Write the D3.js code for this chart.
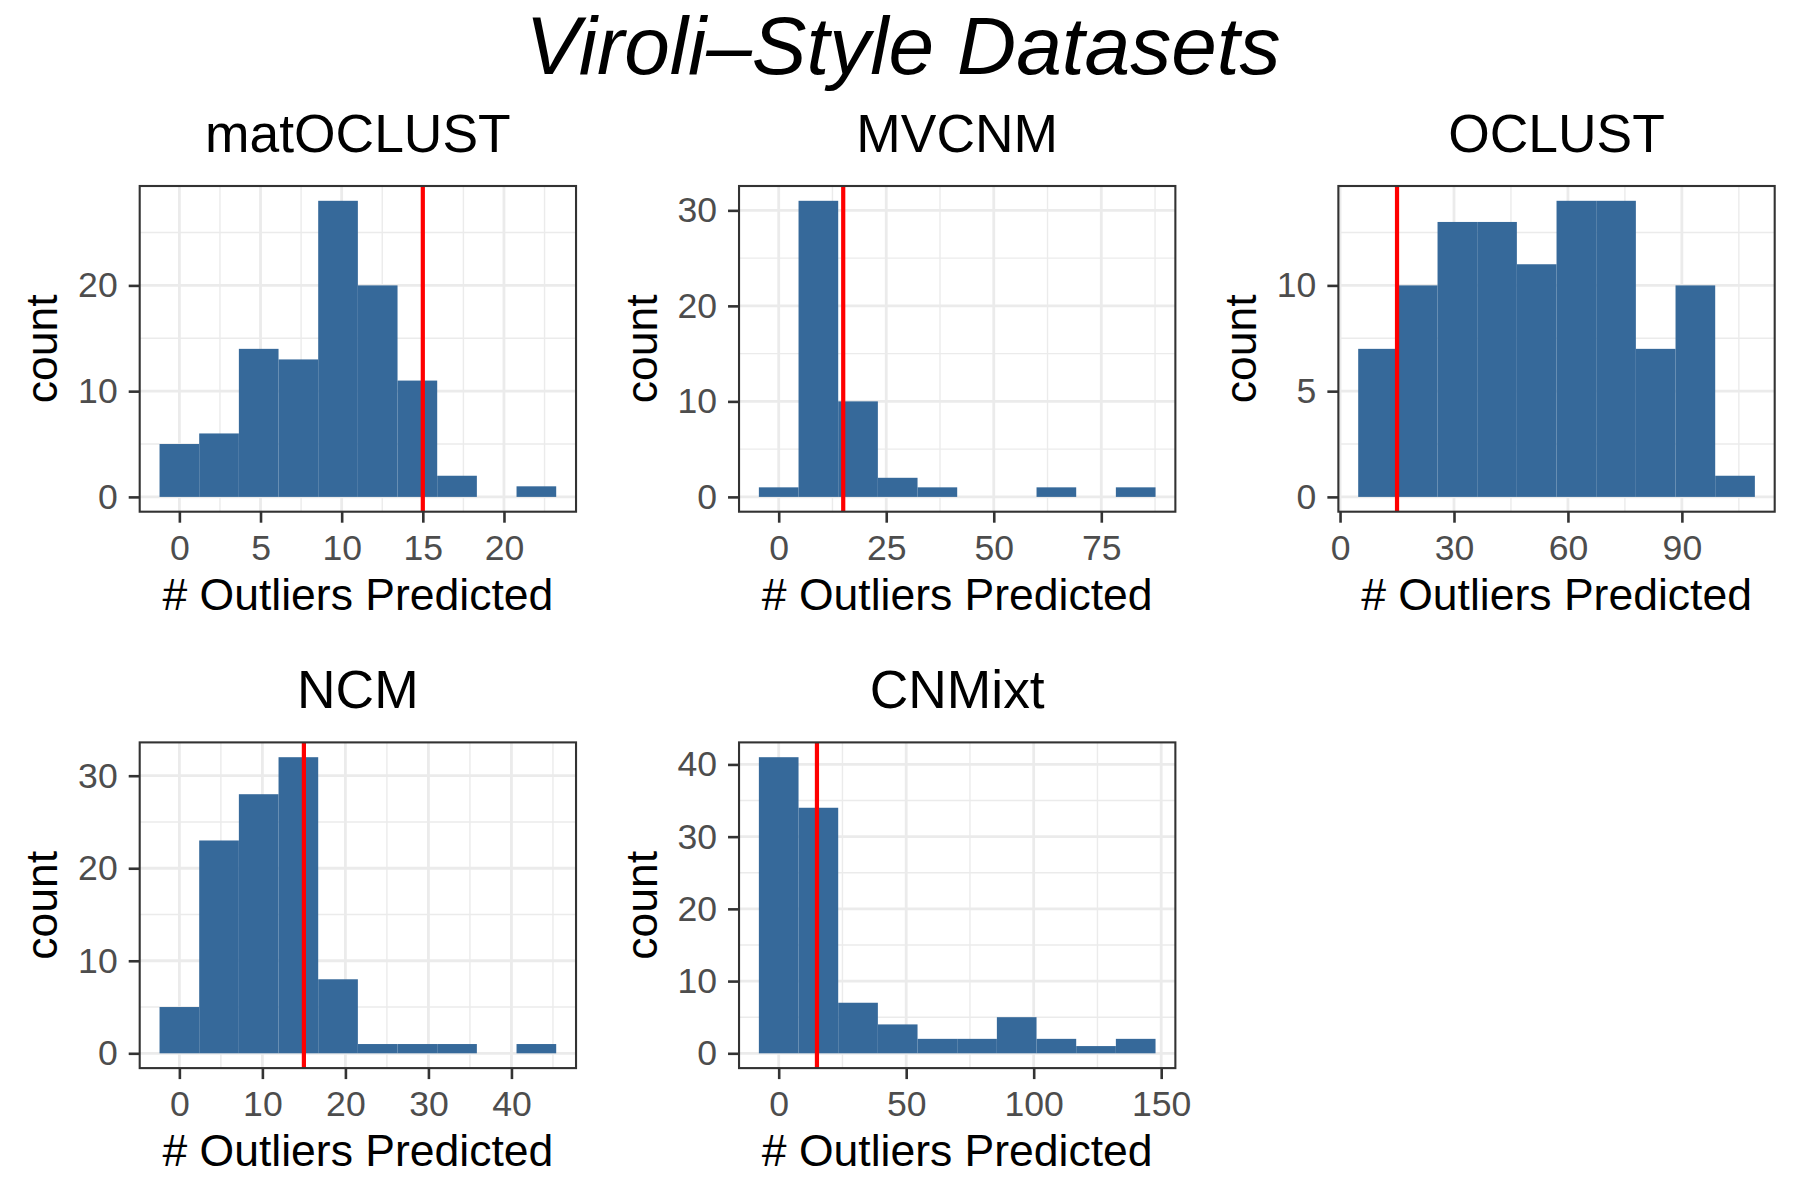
<!DOCTYPE html>
<html>
<head>
<meta charset="utf-8">
<script src="https://cdn.jsdelivr.net/npm/d3@7"></script>
<style>
  html, body { margin: 0; padding: 0; background: #fff; }
  svg { display: block; }
  text { font-family: "Liberation Sans", Arial, Helvetica, sans-serif; }
</style>
</head>
<body>
<div id="chart"></div>
<script>
// ---------------- data ----------------
const mainTitle = "Viroli\u2013Style Datasets";
const panelTitles = ["matOCLUST", "MVCNM", "OCLUST", "NCM", "CNMixt"];
const xLabel = "# Outliers Predicted";
const yLabel = "count";

// histogram bins: centre of first bin and bin width (10 bins each)
const firstBinCenter = [0, 0, 10, 0, 0];
const binWidth = [2.444, 9.222, 10.444, 4.778, 15.556];

const countsMatOCLUST = [5, 6, 14, 13, 28, 20, 11, 2, 0, 1];
const countsMVCNM     = [1, 31, 10, 2, 1, 0, 0, 1, 0, 1];
const countsOCLUST    = [7, 10, 13, 13, 11, 14, 14, 7, 10, 1];
const countsNCM       = [5, 23, 28, 32, 8, 1, 1, 1, 0, 1];
const countsCNMixt    = [41, 34, 7, 4, 2, 2, 5, 2, 1, 2];
const allCounts = [countsMatOCLUST, countsMVCNM, countsOCLUST, countsNCM, countsCNMixt];

const trueOutliers = [15, 15, 15, 15, 15];

const xTicks = [[0, 5, 10, 15, 20], [0, 25, 50, 75], [0, 30, 60, 90], [0, 10, 20, 30, 40], [0, 50, 100, 150]];
const yTicks = [[0, 10, 20], [0, 10, 20, 30], [0, 5, 10], [0, 10, 20, 30], [0, 10, 20, 30, 40]];

// ---------------- layout ----------------
const W = 1798, H = 1199;
const cellW = W / 3, cellH = 556.4, topH = 86;
const pLeft = 139.7, pRight = 23.3, pTop = 100, pH = 325.7;
const pW = cellW - pLeft - pRight;

const fillCol = "#36699A";
const gridCol = "#EBEBEB";
const darkCol = "#333333";

const svg = d3.select("#chart").append("svg").attr("width", W).attr("height", H);
svg.append("rect").attr("width", W).attr("height", H).attr("fill", "#fff");

svg.append("text")
  .attr("x", 903).attr("y", 74)
  .attr("text-anchor", "middle")
  .attr("font-size", 82).attr("font-style", "italic")
  .attr("fill", "#000")
  .text(mainTitle);

panelTitles.forEach((title, i) => {
  const col = i % 3, row = Math.floor(i / 3);
  const gx = col * cellW + pLeft, gy = topH + row * cellH + pTop;
  const g = svg.append("g").attr("transform", `translate(${gx},${gy})`);

  const counts = allCounts[i];
  const w = binWidth[i];
  const bins = counts.map((c, k) => {
    const center = firstBinCenter[i] + k * w;
    return { x0: center - w / 2, x1: center + w / 2, c: c };
  });
  const lo = bins[0].x0, hi = bins[bins.length - 1].x1;
  const xr = hi - lo;
  const x = d3.scaleLinear().domain([lo - 0.05 * xr, hi + 0.05 * xr]).range([0, pW]);
  const yMax = d3.max(counts);
  const y = d3.scaleLinear().domain([-0.05 * yMax, 1.05 * yMax]).range([pH, 0]);

  // minor grid
  const xt = xTicks[i], yt = yTicks[i];
  const xs = xt[1] - xt[0], ys = yt[1] - yt[0];
  const xd = x.domain(), yd = y.domain();
  const xMinor = d3.range(Math.floor(xd[0] / xs) * xs + xs / 2, xd[1], xs).filter(v => v >= xd[0] && v <= xd[1]);
  const yMinor = d3.range(Math.floor(yd[0] / ys) * ys + ys / 2, yd[1], ys).filter(v => v >= yd[0] && v <= yd[1]);

  g.selectAll(".xmin").data(xMinor).join("line")
    .attr("x1", d => x(d)).attr("x2", d => x(d)).attr("y1", 0).attr("y2", pH)
    .attr("stroke", gridCol).attr("stroke-width", 1.4);
  g.selectAll(".ymin").data(yMinor).join("line")
    .attr("y1", d => y(d)).attr("y2", d => y(d)).attr("x1", 0).attr("x2", pW)
    .attr("stroke", gridCol).attr("stroke-width", 1.4);
  g.selectAll(".xmaj").data(xt).join("line")
    .attr("x1", d => x(d)).attr("x2", d => x(d)).attr("y1", 0).attr("y2", pH)
    .attr("stroke", gridCol).attr("stroke-width", 2.8);
  g.selectAll(".ymaj").data(yt).join("line")
    .attr("y1", d => y(d)).attr("y2", d => y(d)).attr("x1", 0).attr("x2", pW)
    .attr("stroke", gridCol).attr("stroke-width", 2.8);

  // bars
  g.selectAll(".bar").data(bins).join("rect")
    .attr("x", d => x(d.x0))
    .attr("width", d => x(d.x1) - x(d.x0))
    .attr("y", d => y(d.c))
    .attr("height", d => y(0) - y(d.c))
    .attr("fill", fillCol);

  // reference line
  g.append("line")
    .attr("x1", x(trueOutliers[i])).attr("x2", x(trueOutliers[i]))
    .attr("y1", 0).attr("y2", pH)
    .attr("stroke", "#FF0000").attr("stroke-width", 4.2);

  // border
  g.append("rect").attr("x", 0).attr("y", 0).attr("width", pW).attr("height", pH)
    .attr("fill", "none").attr("stroke", darkCol).attr("stroke-width", 2.1);

  // axes
  const xAxis = g.append("g").attr("transform", `translate(0,${pH})`)
    .call(d3.axisBottom(x).tickValues(xt).tickSize(11).tickPadding(10).tickFormat(d3.format("d")));
  const yAxis = g.append("g")
    .call(d3.axisLeft(y).tickValues(yt).tickSize(11).tickPadding(11).tickFormat(d3.format("d")));
  [xAxis, yAxis].forEach(a => {
    a.select(".domain").remove();
    a.selectAll(".tick line").attr("stroke", darkCol).attr("stroke-width", 2.6);
    a.selectAll(".tick text").attr("fill", "#4D4D4D").attr("font-size", 35.6)
      .attr("font-family", '"Liberation Sans", Arial, Helvetica, sans-serif');
  });
  xAxis.selectAll(".tick text").attr("dy", "0.76em");

  // titles
  g.append("text").attr("x", pW / 2).attr("y", -34.3)
    .attr("text-anchor", "middle").attr("font-size", 53.4).attr("fill", "#000")
    .text(title);
  g.append("text").attr("x", pW / 2).attr("y", pH + 98.3)
    .attr("text-anchor", "middle").attr("font-size", 44.5).attr("fill", "#000")
    .text(xLabel);
  g.append("text")
    .attr("transform", `translate(${-82.3},${pH / 2}) rotate(-90)`)
    .attr("text-anchor", "middle").attr("font-size", 44.5).attr("fill", "#000")
    .text(yLabel);
});
</script>
</body>
</html>
